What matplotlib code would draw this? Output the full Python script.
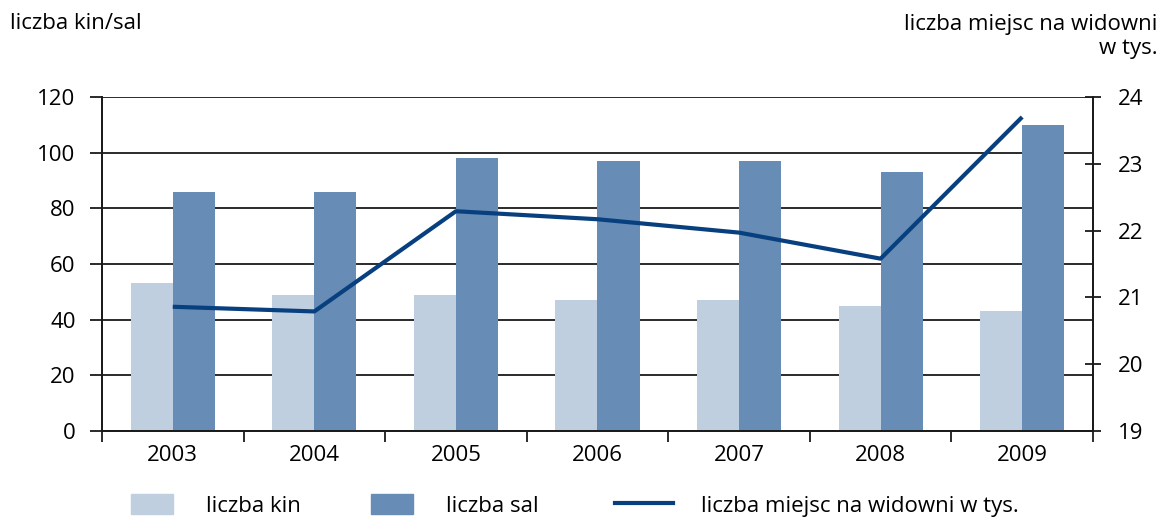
import matplotlib.pyplot as plt
from matplotlib.patches import Patch
from matplotlib.lines import Line2D
import numpy as np

plt.rcParams['font.family'] = ['Open Sans', 'DejaVu Sans']

lata = ['2003', '2004', '2005', '2006', '2007', '2008', '2009']
liczba_kin = [53, 49, 49, 47, 47, 45, 43]
liczba_sal = [86, 86, 98, 97, 97, 93, 110]
miejsca_tys = [20.86, 20.79, 22.29, 22.17, 21.97, 21.58, 23.70]

kolor_kin = '#c0cfe0'
kolor_sal = '#678cb5'
kolor_linii = '#08407f'
kolor_siatki = '#1a1a1a'
fs = 16

fig = plt.figure(figsize=(11.6, 5.17), dpi=100)
ax = fig.add_axes([0.0879, 0.1663, 0.8543, 0.6461])
ax2 = ax.twinx()

x = np.arange(len(lata))
w = 0.297
ax.bar(x - w / 2, liczba_kin, width=w, color=kolor_kin, zorder=2)
ax.bar(x + w / 2, liczba_sal, width=w, color=kolor_sal, zorder=2)
ax2.plot(x, miejsca_tys, color=kolor_linii, lw=3, solid_capstyle='butt', zorder=3)

ax.set_xlim(-0.5, len(lata) - 0.5)
ax.set_ylim(0, 120)
ax.set_yticks(range(0, 121, 20))
ax2.set_ylim(19, 24)
ax2.set_yticks(range(19, 25))

ax.grid(axis='y', color=kolor_siatki, lw=1.3, zorder=1)
ax.set_axisbelow(True)

# ticks at category boundaries, labels at centres
ax.set_xticks(np.arange(-0.5, len(lata), 1))
ax.set_xticklabels([])
ax.set_xticks(x, minor=True)
ax.set_xticklabels(lata, minor=True, fontsize=fs)
ax.tick_params(axis='x', which='major', direction='out', length=8, width=1.3, color=kolor_siatki)
ax.tick_params(axis='x', which='minor', length=0, pad=10)
ax.tick_params(axis='y', direction='out', length=9, width=1.3, color=kolor_siatki, labelsize=fs, pad=10)
ax2.tick_params(axis='y', direction='inout', length=12, width=1.3, color=kolor_siatki, labelsize=fs, pad=12)

for a in (ax, ax2):
    for s in a.spines.values():
        s.set_color(kolor_siatki)
        s.set_linewidth(1.3)
    a.spines['top'].set_visible(False)

fig.text(0.009, 0.955, 'liczba kin/sal', fontsize=fs, ha='left', va='center')
fig.text(0.998, 0.93, 'liczba miejsc na widowni\nw tys.', fontsize=fs, ha='right',
         va='center', multialignment='right', linespacing=1.2)

# legend
elementy = [
    (Patch(color=kolor_kin), 'liczba kin', 0.113, 1.9, 1.45),
    (Patch(color=kolor_sal), 'liczba sal', 0.320, 1.9, 1.45),
    (Line2D([0], [0], color=kolor_linii, lw=3), 'liczba miejsc na widowni w tys.', 0.530, 2.6, 1.3),
]
for h, lab, xpos, hl, tp in elementy:
    fig.legend([h], [lab], loc='center left', bbox_to_anchor=(xpos, 0.023),
               frameon=False, fontsize=fs, handlelength=hl, handleheight=1.05,
               handletextpad=tp, borderpad=0, borderaxespad=0)

fig.savefig('out.png', dpi=100)
